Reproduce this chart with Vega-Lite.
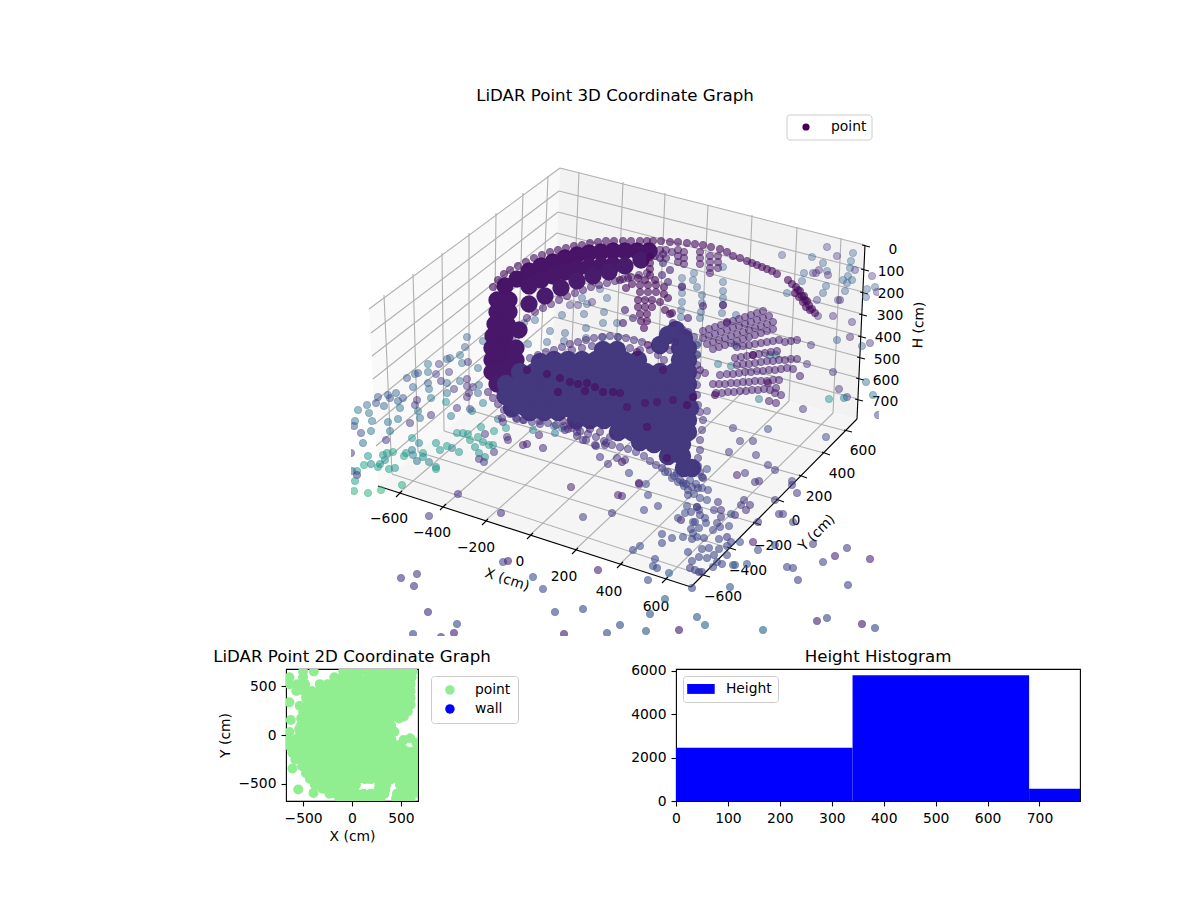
{
"$schema":"https://vega.github.io/schema/vega-lite/v6.json",
"autosize":"none",
"padding":{"left":286,"top":108,"right":914,"bottom":792},
"background":"white",
"config":{"font":"DejaVu Sans","title":{"fontSize":16.67,"fontWeight":"normal","color":"black","offset":3},
"axis":{"grid":false,"domain":false,"tickColor":"black","tickSize":5,"tickWidth":1.1,"labelColor":"black","labelFontSize":13.89,"labelFlush":false,"labelOverlap":false,"labelPadding":5,"titleColor":"black","titleFontSize":13.89,"titleFontWeight":"normal","titlePadding":5}},
"datasets":{
"ticklabels":[{"x":389,"y":519,"t":"−600"},{"x":432,"y":533,"t":"−400"},{"x":476,"y":548,"t":"−200"},{"x":520,"y":562,"t":"0"},{"x":564,"y":577,"t":"200"},{"x":609,"y":592,"t":"400"},{"x":656,"y":607,"t":"600"},
{"x":723,"y":597,"t":"−600"},{"x":748,"y":571,"t":"−400"},{"x":773,"y":546,"t":"−200"},{"x":796,"y":521,"t":"0"},{"x":819,"y":497,"t":"200"},{"x":842,"y":474,"t":"400"},{"x":863,"y":451,"t":"600"},
{"x":893,"y":250,"t":"0"},{"x":891,"y":272,"t":"100"},{"x":891,"y":294,"t":"200"},{"x":890,"y":316,"t":"300"},{"x":888,"y":338,"t":"400"},{"x":887,"y":360,"t":"500"},{"x":886,"y":381,"t":"600"},{"x":885,"y":402,"t":"700"}],
"grid":[{"x":399,"y":493,"x2":572,"y2":345},{"x":572,"y":345,"x2":579,"y2":172},{"x":443,"y":507,"x2":616,"y2":356},{"x":616,"y":356,"x2":623,"y2":182},{"x":485,"y":521,"x2":658,"y2":367},{"x":658,"y":367,"x2":665,"y2":193},{"x":530,"y":535,"x2":700,"y2":378},{"x":700,"y":378,"x2":708,"y2":205},{"x":575,"y":550,"x2":745,"y2":390},{"x":745,"y":390,"x2":752,"y2":215},{"x":620,"y":564,"x2":789,"y2":401},{"x":789,"y":401,"x2":797,"y2":227},{"x":665,"y":579,"x2":833,"y2":413},{"x":833,"y":413,"x2":841,"y2":238},
{"x":702,"y":575,"x2":392,"y2":474},{"x":392,"y":474,"x2":384,"y2":295},{"x":729,"y":548,"x2":418,"y2":452},{"x":418,"y":452,"x2":413,"y2":274},{"x":755,"y":523,"x2":444,"y2":431},{"x":444,"y":431,"x2":442,"y2":253},{"x":778,"y":500,"x2":469,"y2":410},{"x":469,"y":410,"x2":469,"y2":233},{"x":801,"y":476,"x2":494,"y2":390},{"x":494,"y":390,"x2":496,"y2":213},{"x":824,"y":453,"x2":518,"y2":369},{"x":518,"y":369,"x2":523,"y2":193},{"x":846,"y":431,"x2":541,"y2":350},{"x":541,"y":350,"x2":548,"y2":176},
{"x":369,"y":309,"x2":560,"y2":168},{"x":560,"y":168,"x2":865,"y2":245},{"x":371,"y":333,"x2":559,"y2":191},{"x":559,"y":191,"x2":864,"y2":269},{"x":372,"y":356,"x2":558,"y2":212},{"x":558,"y":212,"x2":863,"y2":292},{"x":373,"y":379,"x2":557,"y2":233},{"x":557,"y":233,"x2":862,"y2":314},{"x":374,"y":402,"x2":556,"y2":254},{"x":556,"y":254,"x2":861,"y2":336},{"x":375,"y":424,"x2":555,"y2":275},{"x":555,"y":275,"x2":860,"y2":357},{"x":376,"y":446,"x2":555,"y2":296},{"x":555,"y":296,"x2":859,"y2":378},{"x":377,"y":467,"x2":554,"y2":317},{"x":554,"y":317,"x2":858,"y2":399}],
"axes":[{"x":378,"y":486,"x2":691,"y2":587},{"x":691,"y":587,"x2":857,"y2":419},{"x":857,"y":419,"x2":865,"y2":245},
{"x":396,"y":497,"x2":402,"y2":491},{"x":440,"y":510,"x2":446,"y2":504},{"x":482,"y":525,"x2":488,"y2":519},{"x":527,"y":539,"x2":533,"y2":533},{"x":572,"y":554,"x2":578,"y2":548},{"x":617,"y":568,"x2":623,"y2":562},{"x":662,"y":583,"x2":668,"y2":577},
{"x":700,"y":574,"x2":710,"y2":577},{"x":727,"y":547,"x2":736,"y2":550},{"x":753,"y":522,"x2":761,"y2":525},{"x":776,"y":499,"x2":784,"y2":502},{"x":799,"y":475,"x2":807,"y2":478},{"x":822,"y":452,"x2":830,"y2":455},{"x":844,"y":430,"x2":852,"y2":432},
{"x":862,"y":245,"x2":870,"y2":247},{"x":861,"y":269,"x2":869,"y2":271},{"x":860,"y":292,"x2":868,"y2":294},{"x":859,"y":314,"x2":867,"y2":316},{"x":858,"y":336,"x2":866,"y2":338},{"x":857,"y":357,"x2":865,"y2":359},{"x":856,"y":378,"x2":864,"y2":380},{"x":855,"y":399,"x2":863,"y2":401}],
"scatter":[{"x":358,"y":410,"h":300},{"x":355,"y":421,"h":280},{"x":354,"y":426,"h":200},{"x":361,"y":433,"h":180},{"x":363,"y":443,"h":270},{"x":371,"y":431,"h":300},{"x":372,"y":421,"h":300},{"x":369,"y":413,"h":290},{"x":367,"y":405,"h":280},{"x":376,"y":403,"h":190},{"x":378,"y":397,"h":200},{"x":384,"y":406,"h":260},{"x":388,"y":395,"h":250},{"x":390,"y":398,"h":170},{"x":396,"y":393,"h":250},{"x":398,"y":401,"h":230},{"x":403,"y":398,"h":210},{"x":400,"y":408,"h":290},{"x":388,"y":422,"h":290},{"x":398,"y":419,"h":300},{"x":390,"y":431,"h":310},{"x":386,"y":440,"h":130},{"x":410,"y":423,"h":120},{"x":413,"y":387,"h":260},{"x":407,"y":378,"h":200},{"x":415,"y":374,"h":270},{"x":418,"y":373,"h":200},{"x":428,"y":383,"h":200},{"x":429,"y":389,"h":280},{"x":431,"y":398,"h":300},{"x":417,"y":400,"h":110},{"x":415,"y":405,"h":130},{"x":418,"y":411,"h":300},{"x":420,"y":418,"h":290},{"x":431,"y":415,"h":110},{"x":428,"y":364,"h":300},{"x":428,"y":372,"h":280},{"x":436,"y":374,"h":150},{"x":439,"y":364,"h":130},{"x":447,"y":359,"h":240},{"x":450,"y":358,"h":230},{"x":449,"y":372,"h":130},{"x":441,"y":381,"h":110},{"x":447,"y":383,"h":250},{"x":447,"y":393,"h":300},{"x":446,"y":402,"h":380},{"x":454,"y":389,"h":110},{"x":460,"y":381,"h":280},{"x":462,"y":363,"h":280},{"x":460,"y":355,"h":280},{"x":468,"y":362,"h":100},{"x":478,"y":368,"h":260},{"x":467,"y":379,"h":90},{"x":467,"y":386,"h":120},{"x":473,"y":387,"h":100},{"x":469,"y":393,"h":90},{"x":467,"y":397,"h":90},{"x":479,"y":385,"h":260},{"x":478,"y":393,"h":250},{"x":483,"y":403,"h":330},{"x":457,"y":408,"h":110},{"x":470,"y":409,"h":160},{"x":472,"y":411,"h":320},{"x":451,"y":416,"h":320},{"x":498,"y":419,"h":300},{"x":502,"y":418,"h":90},{"x":503,"y":422,"h":90},{"x":457,"y":433,"h":420},{"x":463,"y":433,"h":420},{"x":468,"y":434,"h":420},{"x":470,"y":440,"h":420},{"x":478,"y":437,"h":420},{"x":485,"y":434,"h":120},{"x":481,"y":427,"h":420},{"x":494,"y":431,"h":430},{"x":506,"y":428,"h":430},{"x":507,"y":437,"h":100},{"x":508,"y":440,"h":90},{"x":483,"y":442,"h":400},{"x":489,"y":445,"h":430},{"x":493,"y":445,"h":400},{"x":494,"y":452,"h":120},{"x":475,"y":447,"h":400},{"x":479,"y":453,"h":400},{"x":485,"y":457,"h":380},{"x":479,"y":459,"h":120},{"x":484,"y":462,"h":120},{"x":459,"y":452,"h":400},{"x":452,"y":448,"h":340},{"x":447,"y":446,"h":430},{"x":440,"y":450,"h":410},{"x":436,"y":443,"h":400},{"x":419,"y":443,"h":340},{"x":412,"y":438,"h":420},{"x":412,"y":450,"h":300},{"x":406,"y":453,"h":400},{"x":413,"y":455,"h":350},{"x":404,"y":456,"h":450},{"x":423,"y":453,"h":450},{"x":423,"y":457,"h":380},{"x":417,"y":461,"h":300},{"x":429,"y":462,"h":340},{"x":436,"y":467,"h":380},{"x":436,"y":469,"h":460},{"x":395,"y":468,"h":400},{"x":389,"y":469,"h":450},{"x":393,"y":452,"h":460},{"x":387,"y":453,"h":400},{"x":383,"y":455,"h":440},{"x":385,"y":460,"h":400},{"x":380,"y":464,"h":400},{"x":378,"y":467,"h":450},{"x":371,"y":464,"h":340},{"x":368,"y":456,"h":400},{"x":364,"y":465,"h":460},{"x":357,"y":471,"h":400},{"x":352,"y":471,"h":260},{"x":357,"y":475,"h":110},{"x":355,"y":481,"h":450},{"x":354,"y":491,"h":500},{"x":368,"y":493,"h":500},{"x":381,"y":490,"h":510},{"x":402,"y":485,"h":480},{"x":351,"y":453,"h":110},
{"x":458,"y":494,"h":100},{"x":429,"y":516,"h":130},{"x":501,"y":513,"h":100},{"x":571,"y":487,"h":60},{"x":583,"y":517,"h":150},{"x":612,"y":513,"h":130},{"x":618,"y":495,"h":70},{"x":503,"y":562,"h":170},{"x":508,"y":561,"h":70},{"x":401,"y":578,"h":120},{"x":417,"y":574,"h":140},{"x":414,"y":586,"h":120},{"x":533,"y":577,"h":190},{"x":543,"y":589,"h":190},{"x":598,"y":570,"h":70},{"x":428,"y":612,"h":110},{"x":457,"y":624,"h":190},{"x":413,"y":634,"h":190},{"x":441,"y":637,"h":130},{"x":454,"y":633,"h":90},{"x":555,"y":612,"h":190},{"x":583,"y":609,"h":190},{"x":564,"y":634,"h":70},{"x":607,"y":633,"h":190},{"x":620,"y":625,"h":190},
{"x":646,"y":631,"h":230},{"x":679,"y":630,"h":70},{"x":650,"y":614,"h":210},{"x":665,"y":599,"h":240},{"x":697,"y":617,"h":230},{"x":705,"y":625,"h":280},{"x":763,"y":630,"h":280},{"x":730,"y":587,"h":220},{"x":692,"y":588,"h":190},{"x":648,"y":580,"h":190},{"x":669,"y":573,"h":230},{"x":657,"y":568,"h":170},{"x":653,"y":566,"h":190},{"x":655,"y":559,"h":170},{"x":633,"y":550,"h":170},{"x":640,"y":546,"h":190},{"x":747,"y":564,"h":220},{"x":735,"y":565,"h":210},{"x":733,"y":565,"h":220},{"x":787,"y":567,"h":170},{"x":793,"y":568,"h":170},{"x":798,"y":580,"h":150},{"x":848,"y":585,"h":160},{"x":823,"y":562,"h":170},{"x":835,"y":556,"h":70},{"x":870,"y":559,"h":70},{"x":847,"y":548,"h":140},{"x":813,"y":544,"h":150},{"x":817,"y":621,"h":90},{"x":827,"y":618,"h":180},{"x":862,"y":624,"h":70},{"x":875,"y":628,"h":180},{"x":753,"y":542,"h":70},{"x":758,"y":550,"h":190},{"x":740,"y":542,"h":190},{"x":758,"y":522,"h":120},{"x":775,"y":500,"h":120},{"x":797,"y":493,"h":110},{"x":779,"y":514,"h":130},{"x":783,"y":514,"h":150},{"x":793,"y":522,"h":170},{"x":775,"y":545,"h":170},{"x":792,"y":485,"h":120},{"x":746,"y":510,"h":110},{"x":750,"y":505,"h":100},{"x":741,"y":505,"h":120},{"x":744,"y":500,"h":120},{"x":735,"y":515,"h":100},{"x":731,"y":514,"h":190},{"x":718,"y":502,"h":110},{"x":714,"y":510,"h":150},{"x":721,"y":510,"h":110},{"x":721,"y":517,"h":120},{"x":707,"y":500,"h":170},{"x":708,"y":490,"h":150},{"x":699,"y":510,"h":150},{"x":697,"y":507,"h":130},{"x":691,"y":512,"h":150},{"x":687,"y":506,"h":170},{"x":685,"y":513,"h":190},{"x":681,"y":520,"h":60},{"x":678,"y":518,"h":180},{"x":658,"y":506,"h":150},{"x":644,"y":510,"h":170},{"x":648,"y":495,"h":170},{"x":622,"y":496,"h":60},{"x":639,"y":484,"h":70},{"x":646,"y":484,"h":170},{"x":695,"y":522,"h":150},{"x":693,"y":522,"h":170},{"x":705,"y":518,"h":170},{"x":706,"y":523,"h":170},{"x":699,"y":528,"h":170},{"x":691,"y":529,"h":160},{"x":693,"y":533,"h":170},{"x":697,"y":537,"h":170},{"x":662,"y":534,"h":170},{"x":672,"y":538,"h":170},{"x":683,"y":537,"h":170},{"x":662,"y":543,"h":170},{"x":692,"y":539,"h":160},{"x":704,"y":538,"h":170},{"x":713,"y":530,"h":170},{"x":717,"y":523,"h":150},{"x":720,"y":527,"h":150},{"x":729,"y":526,"h":170},{"x":727,"y":537,"h":120},{"x":719,"y":539,"h":170},{"x":731,"y":542,"h":170},{"x":727,"y":546,"h":170},{"x":688,"y":552,"h":170},{"x":702,"y":549,"h":170},{"x":709,"y":548,"h":170},{"x":719,"y":549,"h":170},{"x":699,"y":557,"h":170},{"x":707,"y":558,"h":170},{"x":714,"y":555,"h":170},{"x":727,"y":555,"h":170},{"x":692,"y":561,"h":170},{"x":713,"y":567,"h":170},{"x":722,"y":564,"h":170},{"x":690,"y":568,"h":140},{"x":695,"y":570,"h":170},{"x":699,"y":572,"h":150},{"x":702,"y":572,"h":150},{"x":717,"y":562,"h":170},
{"x":733,"y":428,"h":120},{"x":768,"y":429,"h":170},{"x":826,"y":437,"h":170},{"x":740,"y":441,"h":120},{"x":753,"y":441,"h":120},{"x":729,"y":452,"h":120},{"x":756,"y":455,"h":120},{"x":707,"y":411,"h":110},{"x":803,"y":409,"h":110},{"x":768,"y":465,"h":120},{"x":775,"y":470,"h":120},{"x":745,"y":473,"h":120},{"x":737,"y":475,"h":60},{"x":755,"y":482,"h":120},{"x":759,"y":481,"h":100},{"x":792,"y":481,"h":150},{"x":707,"y":469,"h":170},{"x":829,"y":399,"h":380},{"x":847,"y":397,"h":150},{"x":844,"y":398,"h":320},{"x":839,"y":389,"h":110},{"x":873,"y":395,"h":300},{"x":878,"y":415,"h":160},{"x":866,"y":382,"h":290},{"x":833,"y":372,"h":110},{"x":807,"y":364,"h":100},
{"x":827,"y":247,"h":110},{"x":782,"y":255,"h":170},{"x":812,"y":257,"h":230},{"x":837,"y":256,"h":90},{"x":853,"y":253,"h":240},{"x":851,"y":261,"h":240},{"x":823,"y":263,"h":220},{"x":850,"y":268,"h":240},{"x":855,"y":270,"h":130},{"x":872,"y":276,"h":110},{"x":819,"y":270,"h":90},{"x":813,"y":273,"h":110},{"x":816,"y":273,"h":90},{"x":804,"y":273,"h":230},{"x":827,"y":271,"h":230},{"x":828,"y":275,"h":70},{"x":848,"y":276,"h":240},{"x":843,"y":280,"h":240},{"x":852,"y":280,"h":240},{"x":847,"y":283,"h":240},{"x":802,"y":281,"h":240},{"x":826,"y":286,"h":230},{"x":867,"y":289,"h":230},{"x":875,"y":287,"h":230},{"x":877,"y":292,"h":110},{"x":866,"y":297,"h":230},{"x":845,"y":291,"h":240},{"x":823,"y":293,"h":230},{"x":787,"y":293,"h":230},{"x":817,"y":300,"h":130},{"x":838,"y":300,"h":200},{"x":840,"y":300,"h":60},{"x":833,"y":316,"h":90},{"x":818,"y":316,"h":100},{"x":852,"y":322,"h":110},{"x":850,"y":337,"h":70},{"x":837,"y":340,"h":230},{"x":870,"y":343,"h":110},{"x":862,"y":346,"h":230},{"x":811,"y":345,"h":100},
{"x":723,"y":267,"h":230},{"x":723,"y":282,"h":230},{"x":723,"y":291,"h":230},{"x":723,"y":298,"h":230},{"x":723,"y":305,"h":230},{"x":722,"y":313,"h":230},{"x":682,"y":278,"h":230},{"x":682,"y":286,"h":230},{"x":682,"y":293,"h":230},{"x":682,"y":302,"h":230},{"x":681,"y":310,"h":230},{"x":681,"y":317,"h":230},{"x":694,"y":273,"h":230},{"x":693,"y":280,"h":230},{"x":697,"y":287,"h":230},{"x":702,"y":295,"h":230},{"x":702,"y":303,"h":230},{"x":701,"y":312,"h":230},{"x":700,"y":318,"h":230},{"x":698,"y":343,"h":280},{"x":736,"y":315,"h":230},
{"x":467,"y":337,"h":230},{"x":465,"y":347,"h":230},{"x":513,"y":336,"h":230},{"x":512,"y":346,"h":230},{"x":528,"y":344,"h":230},{"x":550,"y":331,"h":230},{"x":547,"y":342,"h":230},{"x":565,"y":333,"h":230},{"x":564,"y":341,"h":230},{"x":586,"y":328,"h":230},{"x":584,"y":314,"h":230},{"x":562,"y":315,"h":230},{"x":535,"y":320,"h":230},{"x":524,"y":323,"h":230},{"x":603,"y":323,"h":230},{"x":604,"y":312,"h":230},{"x":607,"y":298,"h":230},{"x":600,"y":289,"h":230},{"x":570,"y":305,"h":120},{"x":578,"y":305,"h":120},{"x":582,"y":298,"h":230},{"x":587,"y":304,"h":230},{"x":592,"y":302,"h":90},{"x":617,"y":323,"h":230},{"x":618,"y":337,"h":230},{"x":603,"y":337,"h":230},{"x":586,"y":338,"h":230},{"x":483,"y":341,"h":230},
{"x":697,"y":354,"h":300},{"x":718,"y":364,"h":300},{"x":731,"y":366,"h":300},{"x":735,"y":345,"h":300},{"x":770,"y":355,"h":300},{"x":776,"y":355,"h":300},{"x":759,"y":399,"h":310},{"x":533,"y":430,"h":330},{"x":554,"y":426,"h":300},{"x":562,"y":428,"h":300},{"x":555,"y":433,"h":300}],
"core":[{"x":540,"y":362},{"x":554,"y":360},{"x":568,"y":360},{"x":582,"y":360},{"x":596,"y":360},{"x":610,"y":360},{"x":624,"y":360},{"x":638,"y":360},{"x":603,"y":350},{"x":617,"y":350},{"x":680,"y":348},{"x":688,"y":348},{"x":684,"y":338},{"x":680,"y":360},{"x":688,"y":360},
{"x":520,"y":372},{"x":534,"y":372},{"x":548,"y":372},{"x":562,"y":372},{"x":576,"y":372},{"x":590,"y":372},{"x":604,"y":372},{"x":618,"y":372},{"x":632,"y":372},{"x":646,"y":372},{"x":660,"y":372},{"x":674,"y":372},{"x":688,"y":372},
{"x":506,"y":384},{"x":520,"y":384},{"x":534,"y":384},{"x":548,"y":384},{"x":562,"y":384},{"x":576,"y":384},{"x":590,"y":384},{"x":604,"y":384},{"x":618,"y":384},{"x":632,"y":384},{"x":646,"y":384},{"x":660,"y":384},{"x":674,"y":384},{"x":688,"y":384},
{"x":506,"y":396},{"x":520,"y":396},{"x":534,"y":396},{"x":548,"y":396},{"x":562,"y":396},{"x":576,"y":396},{"x":590,"y":396},{"x":604,"y":396},{"x":618,"y":396},{"x":632,"y":396},{"x":646,"y":396},{"x":660,"y":396},{"x":674,"y":396},{"x":688,"y":396},
{"x":512,"y":408},{"x":526,"y":408},{"x":540,"y":408},{"x":554,"y":408},{"x":568,"y":408},{"x":582,"y":408},{"x":596,"y":408},{"x":610,"y":408},{"x":624,"y":408},{"x":638,"y":408},{"x":652,"y":408},{"x":666,"y":408},{"x":680,"y":408},{"x":690,"y":408},
{"x":576,"y":420},{"x":590,"y":420},{"x":604,"y":420},{"x":618,"y":420},{"x":632,"y":420},{"x":646,"y":420},{"x":660,"y":420},{"x":674,"y":420},{"x":688,"y":420},{"x":530,"y":412},{"x":544,"y":412},{"x":558,"y":412},
{"x":618,"y":432},{"x":632,"y":432},{"x":646,"y":432},{"x":660,"y":432},{"x":674,"y":432},{"x":688,"y":432},{"x":640,"y":442},{"x":654,"y":444},{"x":668,"y":444},{"x":682,"y":444},{"x":668,"y":456},{"x":682,"y":456},{"x":684,"y":468},{"x":692,"y":468},{"x":660,"y":345},{"x":668,"y":335},{"x":676,"y":330}],
"band":[{"x":497,"y":300,"h":45},{"x":509,"y":300,"h":45},{"x":497,"y":312,"h":45},{"x":509,"y":312,"h":45},{"x":495,"y":324,"h":45},{"x":507,"y":324,"h":45},{"x":519,"y":330,"h":50},{"x":493,"y":336,"h":45},{"x":505,"y":336,"h":45},{"x":492,"y":348,"h":45},{"x":504,"y":348,"h":45},{"x":516,"y":348,"h":50},{"x":492,"y":360,"h":45},{"x":504,"y":360,"h":45},{"x":516,"y":360,"h":50},{"x":492,"y":372,"h":50},{"x":504,"y":372,"h":50},{"x":516,"y":372,"h":50},{"x":497,"y":384,"h":55},{"x":509,"y":384,"h":55},{"x":521,"y":384,"h":55},{"x":505,"y":396,"h":55},{"x":517,"y":396,"h":55},
{"x":505,"y":286,"h":40},{"x":517,"y":279,"h":40},{"x":529,"y":271,"h":40},{"x":541,"y":266,"h":40},{"x":553,"y":262,"h":40},{"x":565,"y":258,"h":40},{"x":577,"y":255,"h":40},{"x":589,"y":253,"h":40},{"x":601,"y":252,"h":40},{"x":613,"y":251,"h":40},{"x":625,"y":251,"h":40},{"x":637,"y":251,"h":40},{"x":649,"y":251,"h":40},
{"x":529,"y":286,"h":45},{"x":541,"y":280,"h":45},{"x":553,"y":276,"h":45},{"x":565,"y":272,"h":45},{"x":577,"y":269,"h":45},{"x":589,"y":267,"h":45},{"x":601,"y":266,"h":45},{"x":613,"y":265,"h":45},
{"x":529,"y":304,"h":55},{"x":545,"y":296,"h":55},{"x":561,"y":288,"h":55},{"x":577,"y":281,"h":55},{"x":593,"y":276,"h":55},{"x":609,"y":272,"h":55},{"x":625,"y":266,"h":55},{"x":641,"y":260,"h":55}],
"edge":[{"x":488,"y":392,"h":80},{"x":493,"y":398,"h":90},{"x":498,"y":404,"h":95},{"x":504,"y":410,"h":100},{"x":510,"y":414,"h":105},{"x":516,"y":418,"h":110},{"x":524,"y":420,"h":110},{"x":532,"y":422,"h":110},{"x":540,"y":421,"h":110},{"x":548,"y":423,"h":110},{"x":556,"y":425,"h":110},{"x":564,"y":426,"h":110},{"x":572,"y":428,"h":110},{"x":580,"y":431,"h":115},{"x":588,"y":434,"h":115},{"x":596,"y":437,"h":115},{"x":604,"y":441,"h":115},{"x":612,"y":445,"h":115},{"x":620,"y":447,"h":115},{"x":628,"y":449,"h":115},{"x":636,"y":452,"h":120},{"x":644,"y":456,"h":120},{"x":650,"y":461,"h":120},{"x":656,"y":465,"h":120},{"x":662,"y":468,"h":125},{"x":668,"y":472,"h":125},{"x":674,"y":476,"h":125},{"x":680,"y":480,"h":125},{"x":686,"y":484,"h":125},{"x":692,"y":487,"h":130},{"x":698,"y":488,"h":130},
{"x":700,"y":412,"h":110},{"x":703,"y":420,"h":110},{"x":702,"y":430,"h":110},{"x":700,"y":440,"h":110},{"x":700,"y":450,"h":120},{"x":698,"y":458,"h":120},{"x":698,"y":466,"h":120},{"x":700,"y":472,"h":120},{"x":703,"y":478,"h":120},{"x":698,"y":405,"h":110},{"x":697,"y":395,"h":110},{"x":697,"y":385,"h":110},{"x":697,"y":375,"h":110},{"x":697,"y":365,"h":110},{"x":697,"y":355,"h":110},{"x":697,"y":345,"h":110},{"x":694,"y":337,"h":110},{"x":688,"y":332,"h":110},{"x":683,"y":330,"h":110},
{"x":530,"y":358,"h":100},{"x":538,"y":355,"h":100},{"x":546,"y":352,"h":100},{"x":554,"y":350,"h":100},{"x":562,"y":347,"h":100},{"x":570,"y":344,"h":100},{"x":578,"y":342,"h":100},{"x":586,"y":340,"h":100},{"x":594,"y":338,"h":100},{"x":602,"y":337,"h":100},{"x":610,"y":336,"h":100},{"x":618,"y":337,"h":100},{"x":626,"y":338,"h":100},{"x":634,"y":340,"h":100},{"x":642,"y":342,"h":100},{"x":650,"y":350,"h":100},{"x":658,"y":355,"h":100},{"x":664,"y":360,"h":100},{"x":670,"y":350,"h":100},{"x":675,"y":342,"h":100},{"x":572,"y":350,"h":100},{"x":582,"y":348,"h":100},{"x":592,"y":346,"h":100},{"x":630,"y":348,"h":100},{"x":640,"y":350,"h":100},
{"x":563,"y":421,"h":90},{"x":570,"y":425,"h":90},{"x":578,"y":427,"h":90},{"x":590,"y":429,"h":90},{"x":600,"y":432,"h":90},{"x":610,"y":437,"h":90},{"x":565,"y":430,"h":90},{"x":577,"y":436,"h":100},{"x":586,"y":440,"h":100},{"x":595,"y":445,"h":100},{"x":605,"y":445,"h":100},{"x":600,"y":457,"h":110},{"x":608,"y":464,"h":110},{"x":617,"y":458,"h":110},{"x":625,"y":460,"h":110},{"x":622,"y":462,"h":50},{"x":629,"y":473,"h":150},{"x":639,"y":483,"h":60},{"x":517,"y":419,"h":110},{"x":523,"y":420,"h":110},{"x":540,"y":424,"h":100},{"x":568,"y":429,"h":100},{"x":577,"y":432,"h":100},{"x":583,"y":440,"h":110},{"x":596,"y":446,"h":110},{"x":606,"y":443,"h":110},{"x":523,"y":445,"h":80},{"x":527,"y":444,"h":80},{"x":543,"y":448,"h":90},{"x":539,"y":435,"h":90},
{"x":665,"y":472,"h":170},{"x":672,"y":478,"h":170},{"x":678,"y":482,"h":170},{"x":684,"y":486,"h":170},{"x":688,"y":490,"h":170},{"x":694,"y":494,"h":170},{"x":700,"y":498,"h":170},{"x":690,"y":480,"h":170},{"x":696,"y":484,"h":170},{"x":702,"y":488,"h":170},{"x":677,"y":473,"h":150},{"x":683,"y":483,"h":150},{"x":688,"y":495,"h":150},{"x":697,"y":507,"h":150},{"x":700,"y":515,"h":150},{"x":702,"y":477,"h":150},
{"x":527,"y":318,"h":60},{"x":535,"y":312,"h":60},{"x":543,"y":308,"h":60},{"x":551,"y":304,"h":60},{"x":559,"y":300,"h":60},{"x":567,"y":296,"h":60},{"x":575,"y":293,"h":60},{"x":583,"y":290,"h":60},{"x":591,"y":287,"h":60},{"x":599,"y":285,"h":60},{"x":607,"y":283,"h":60},{"x":615,"y":281,"h":60},{"x":623,"y":279,"h":60},{"x":631,"y":277,"h":60},{"x":639,"y":275,"h":60},{"x":647,"y":273,"h":60},{"x":655,"y":256,"h":60},{"x":663,"y":254,"h":60},{"x":672,"y":252,"h":60},
{"x":678,"y":250,"h":40},{"x":678,"y":256,"h":40},{"x":678,"y":262,"h":50},{"x":684,"y":252,"h":40},{"x":684,"y":258,"h":40},{"x":684,"y":264,"h":50},{"x":700,"y":252,"h":40},{"x":700,"y":258,"h":50},{"x":700,"y":264,"h":50},{"x":710,"y":256,"h":50},{"x":710,"y":262,"h":50},{"x":710,"y":268,"h":60},{"x":710,"y":273,"h":60},{"x":718,"y":256,"h":50},{"x":718,"y":262,"h":50},{"x":718,"y":268,"h":60},{"x":660,"y":250,"h":40},{"x":660,"y":258,"h":50},{"x":666,"y":250,"h":40},{"x":666,"y":258,"h":50},
{"x":703,"y":331,"h":70},{"x":709,"y":329,"h":70},{"x":715,"y":327,"h":70},{"x":721,"y":325,"h":70},{"x":727,"y":323,"h":70},{"x":733,"y":321,"h":70},{"x":739,"y":319,"h":70},{"x":745,"y":317,"h":70},{"x":751,"y":315,"h":70},{"x":757,"y":313,"h":70},{"x":763,"y":311,"h":70},{"x":703,"y":338,"h":70},{"x":709,"y":336,"h":70},{"x":715,"y":334,"h":70},{"x":721,"y":332,"h":70},{"x":727,"y":330,"h":70},{"x":733,"y":328,"h":70},{"x":739,"y":326,"h":70},{"x":745,"y":324,"h":70},{"x":751,"y":322,"h":70},{"x":757,"y":320,"h":70},{"x":763,"y":318,"h":70},{"x":769,"y":316,"h":70},{"x":707,"y":344,"h":70},{"x":713,"y":342,"h":70},{"x":719,"y":340,"h":70},{"x":725,"y":338,"h":70},{"x":731,"y":336,"h":70},{"x":737,"y":334,"h":70},{"x":743,"y":332,"h":70},{"x":749,"y":330,"h":70},{"x":755,"y":328,"h":70},{"x":761,"y":326,"h":70},{"x":767,"y":324,"h":70},{"x":773,"y":322,"h":70},{"x":713,"y":349,"h":70},{"x":719,"y":347,"h":70},{"x":725,"y":345,"h":70},{"x":731,"y":343,"h":70},{"x":737,"y":341,"h":70},{"x":743,"y":339,"h":70},{"x":749,"y":337,"h":70},{"x":755,"y":335,"h":70},{"x":761,"y":333,"h":70},{"x":767,"y":331,"h":70},{"x":773,"y":329,"h":70},
{"x":737,"y":347,"h":70},{"x":743,"y":346,"h":70},{"x":749,"y":345,"h":70},{"x":755,"y":344,"h":70},{"x":761,"y":343,"h":70},{"x":767,"y":342,"h":70},{"x":773,"y":341,"h":70},{"x":779,"y":340,"h":70},{"x":785,"y":342,"h":70},{"x":791,"y":341,"h":70},{"x":797,"y":340,"h":70},{"x":735,"y":358,"h":70},{"x":741,"y":357,"h":70},{"x":747,"y":356,"h":70},{"x":753,"y":355,"h":70},{"x":759,"y":354,"h":70},{"x":765,"y":353,"h":70},{"x":771,"y":352,"h":70},{"x":777,"y":351,"h":70},{"x":737,"y":365,"h":70},{"x":743,"y":364,"h":70},{"x":749,"y":364,"h":70},{"x":755,"y":363,"h":70},{"x":761,"y":362,"h":70},{"x":767,"y":361,"h":70},{"x":773,"y":361,"h":70},{"x":779,"y":360,"h":70},{"x":785,"y":360,"h":70},{"x":791,"y":359,"h":70},{"x":797,"y":359,"h":70},
{"x":720,"y":375,"h":70},{"x":727,"y":374,"h":70},{"x":733,"y":374,"h":70},{"x":739,"y":373,"h":70},{"x":745,"y":372,"h":70},{"x":751,"y":372,"h":70},{"x":757,"y":371,"h":70},{"x":763,"y":371,"h":70},{"x":769,"y":370,"h":70},{"x":775,"y":370,"h":70},{"x":781,"y":369,"h":70},{"x":787,"y":368,"h":70},{"x":793,"y":369,"h":70},{"x":800,"y":376,"h":70},{"x":713,"y":384,"h":70},{"x":719,"y":384,"h":70},{"x":725,"y":384,"h":70},{"x":731,"y":383,"h":70},{"x":737,"y":383,"h":70},{"x":743,"y":382,"h":70},{"x":749,"y":382,"h":70},{"x":755,"y":381,"h":70},{"x":761,"y":381,"h":70},{"x":767,"y":381,"h":70},{"x":773,"y":380,"h":70},{"x":779,"y":380,"h":70},{"x":716,"y":393,"h":70},{"x":722,"y":393,"h":70},{"x":728,"y":392,"h":70},{"x":734,"y":392,"h":70},{"x":740,"y":391,"h":70},{"x":746,"y":391,"h":70},{"x":752,"y":390,"h":70},{"x":758,"y":390,"h":70},{"x":764,"y":389,"h":70},{"x":770,"y":390,"h":70},{"x":776,"y":388,"h":70},{"x":769,"y":401,"h":70},{"x":776,"y":403,"h":70},{"x":775,"y":393,"h":70},{"x":781,"y":395,"h":70},{"x":700,"y":370,"h":70},{"x":705,"y":373,"h":70}],
"dark":[{"x":493,"y":287,"h":25},{"x":498,"y":280,"h":25},{"x":504,"y":274,"h":25},{"x":510,"y":270,"h":25},{"x":518,"y":266,"h":25},{"x":526,"y":262,"h":25},{"x":534,"y":258,"h":25},{"x":542,"y":255,"h":25},{"x":550,"y":252,"h":25},{"x":558,"y":250,"h":25},{"x":566,"y":248,"h":25},{"x":574,"y":246,"h":25},{"x":582,"y":245,"h":25},{"x":590,"y":243,"h":25},{"x":598,"y":242,"h":25},{"x":606,"y":241,"h":25},{"x":614,"y":241,"h":25},{"x":623,"y":241,"h":25},{"x":631,"y":241,"h":25},{"x":640,"y":241,"h":25},{"x":647,"y":241,"h":25},{"x":653,"y":241,"h":25},{"x":661,"y":241,"h":25},{"x":670,"y":242,"h":25},{"x":678,"y":242,"h":25},{"x":687,"y":243,"h":25},{"x":695,"y":244,"h":25},{"x":703,"y":245,"h":25},{"x":711,"y":247,"h":25},{"x":720,"y":249,"h":25},{"x":727,"y":252,"h":25},{"x":733,"y":256,"h":25},{"x":740,"y":258,"h":25},{"x":747,"y":261,"h":25},{"x":752,"y":263,"h":25},{"x":757,"y":265,"h":25},{"x":762,"y":267,"h":25},{"x":767,"y":269,"h":25},{"x":772,"y":271,"h":25},{"x":777,"y":274,"h":25},
{"x":788,"y":280,"h":20},{"x":792,"y":284,"h":20},{"x":796,"y":287,"h":20},{"x":800,"y":291,"h":20},{"x":804,"y":296,"h":20},{"x":807,"y":301,"h":20},{"x":798,"y":290,"h":20},{"x":802,"y":296,"h":20},{"x":805,"y":300,"h":20},{"x":809,"y":305,"h":20},{"x":812,"y":309,"h":20},{"x":815,"y":313,"h":20},{"x":795,"y":293,"h":20},{"x":799,"y":297,"h":20},{"x":803,"y":302,"h":20},{"x":806,"y":307,"h":20},{"x":810,"y":310,"h":20},
{"x":650,"y":257,"h":15},{"x":650,"y":263,"h":15},{"x":650,"y":269,"h":15},{"x":650,"y":275,"h":15},{"x":645,"y":280,"h":15},{"x":655,"y":280,"h":15},{"x":640,"y":285,"h":15},{"x":648,"y":285,"h":15},{"x":656,"y":285,"h":15},{"x":664,"y":287,"h":15},{"x":640,"y":292,"h":15},{"x":648,"y":292,"h":15},{"x":656,"y":292,"h":15},{"x":664,"y":294,"h":15},{"x":668,"y":298,"h":15},{"x":638,"y":300,"h":15},{"x":645,"y":300,"h":15},{"x":652,"y":300,"h":15},{"x":660,"y":302,"h":15},{"x":638,"y":307,"h":15},{"x":645,"y":307,"h":15},{"x":652,"y":307,"h":15},{"x":640,"y":314,"h":15},{"x":647,"y":314,"h":15},{"x":665,"y":310,"h":15},{"x":670,"y":314,"h":15},{"x":641,"y":321,"h":15},{"x":647,"y":321,"h":15},{"x":644,"y":328,"h":15},{"x":638,"y":278,"h":15},{"x":632,"y":284,"h":15},{"x":626,"y":288,"h":15},{"x":620,"y":280,"h":15},{"x":628,"y":278,"h":15},
{"x":682,"y":287,"h":60},{"x":703,"y":306,"h":70},{"x":723,"y":305,"h":50},{"x":688,"y":318,"h":80},{"x":727,"y":322,"h":50},{"x":673,"y":323,"h":90},{"x":670,"y":270,"h":90},{"x":663,"y":263,"h":110},{"x":662,"y":275,"h":90},{"x":668,"y":282,"h":90},{"x":672,"y":313,"h":30},{"x":633,"y":318,"h":100},{"x":623,"y":323,"h":60},{"x":625,"y":310,"h":70},
{"x":527,"y":370,"h":20},{"x":547,"y":374,"h":20},{"x":560,"y":378,"h":20},{"x":570,"y":382,"h":20},{"x":578,"y":384,"h":20},{"x":587,"y":383,"h":20},{"x":585,"y":391,"h":20},{"x":595,"y":387,"h":20},{"x":603,"y":392,"h":20},{"x":613,"y":392,"h":20},{"x":558,"y":392,"h":20},{"x":620,"y":393,"h":30},{"x":647,"y":427,"h":30},{"x":667,"y":458,"h":30},{"x":637,"y":352,"h":30},{"x":648,"y":345,"h":30},{"x":663,"y":370,"h":40},{"x":657,"y":402,"h":40},{"x":687,"y":405,"h":20},{"x":693,"y":397,"h":20},{"x":645,"y":403,"h":40},{"x":627,"y":407,"h":40},{"x":673,"y":400,"h":40},{"x":715,"y":395,"h":20},{"x":753,"y":355,"h":20},{"x":768,"y":383,"h":30}],
"pts2d":[{"x":-500,"y":650},{"x":-390,"y":650},{"x":-90,"y":650},{"x":-10,"y":650},{"x":70,"y":650},{"x":150,"y":650},{"x":230,"y":650},{"x":310,"y":650},{"x":390,"y":650},{"x":470,"y":650},{"x":550,"y":650},{"x":620,"y":650},
{"x":-640,"y":590},{"x":-500,"y":590},{"x":-180,"y":590},{"x":-100,"y":590},{"x":-20,"y":590},{"x":65,"y":590},{"x":275,"y":590},{"x":380,"y":590},{"x":460,"y":590},{"x":540,"y":590},{"x":610,"y":590},
{"x":-640,"y":520},{"x":-560,"y":520},{"x":-480,"y":520},{"x":-330,"y":520},{"x":-250,"y":520},{"x":-170,"y":520},{"x":470,"y":520},{"x":550,"y":520},{"x":600,"y":520},
{"x":-570,"y":450},{"x":-490,"y":450},{"x":-410,"y":450},{"x":-330,"y":450},{"x":-250,"y":450},{"x":-170,"y":450},{"x":470,"y":450},{"x":550,"y":450},{"x":600,"y":450},
{"x":-470,"y":380},{"x":-400,"y":380},{"x":-330,"y":380},{"x":500,"y":380},{"x":570,"y":380},{"x":600,"y":380},{"x":-640,"y":335},{"x":-534,"y":300},{"x":-450,"y":310},{"x":-400,"y":310},{"x":-330,"y":310},{"x":500,"y":310},{"x":570,"y":310},{"x":600,"y":310},
{"x":-500,"y":240},{"x":-460,"y":240},{"x":-390,"y":240},{"x":-320,"y":240},{"x":440,"y":200},{"x":500,"y":240},{"x":570,"y":240},{"x":-626,"y":154},{"x":-520,"y":170},{"x":-400,"y":170},{"x":-330,"y":170},{"x":-460,"y":150},{"x":480,"y":170},{"x":530,"y":190},
{"x":-520,"y":100},{"x":-540,"y":60},{"x":-450,"y":100},{"x":-380,"y":100},{"x":-310,"y":100},{"x":340,"y":100},{"x":400,"y":100},{"x":-640,"y":30},{"x":-530,"y":30},{"x":-460,"y":30},{"x":-390,"y":30},{"x":-320,"y":30},{"x":434,"y":34},{"x":360,"y":30},
{"x":-650,"y":-40},{"x":-570,"y":-40},{"x":-490,"y":-40},{"x":-410,"y":-40},{"x":-330,"y":-40},{"x":400,"y":-40},{"x":527,"y":-51},{"x":595,"y":-34},{"x":657,"y":-79},
{"x":-640,"y":-110},{"x":-570,"y":-110},{"x":-490,"y":-110},{"x":-410,"y":-110},{"x":-330,"y":-110},{"x":440,"y":-110},{"x":480,"y":-130},{"x":-610,"y":-180},{"x":-530,"y":-180},{"x":-450,"y":-180},{"x":-370,"y":-180},{"x":470,"y":-180},
{"x":-580,"y":-250},{"x":-500,"y":-250},{"x":-420,"y":-250},{"x":-340,"y":-250},{"x":500,"y":-250},{"x":-609,"y":-342},{"x":-510,"y":-320},{"x":-430,"y":-320},{"x":-350,"y":-320},{"x":-470,"y":-390},{"x":-400,"y":-390},{"x":-330,"y":-390},
{"x":560,"y":-170},{"x":620,"y":-170},{"x":660,"y":-170},{"x":560,"y":-240},{"x":620,"y":-240},{"x":660,"y":-240},{"x":540,"y":-310},{"x":620,"y":-310},{"x":660,"y":-310},{"x":480,"y":-380},{"x":560,"y":-380},{"x":620,"y":-380},{"x":660,"y":-380},{"x":480,"y":-450},{"x":560,"y":-450},{"x":620,"y":-450},{"x":660,"y":-450},{"x":560,"y":-520},{"x":630,"y":-520},{"x":670,"y":-520},{"x":530,"y":-590},{"x":600,"y":-590},{"x":660,"y":-590},
{"x":-430,"y":-450},{"x":-360,"y":-450},{"x":-290,"y":-450},{"x":-220,"y":-450},{"x":-150,"y":-450},{"x":-80,"y":-450},{"x":-10,"y":-450},{"x":60,"y":-450},{"x":130,"y":-450},{"x":200,"y":-450},{"x":270,"y":-450},{"x":340,"y":-450},{"x":410,"y":-450},
{"x":-380,"y":-510},{"x":-310,"y":-510},{"x":-240,"y":-510},{"x":-170,"y":-510},{"x":-100,"y":-510},{"x":-30,"y":-510},{"x":40,"y":-510},{"x":280,"y":-510},{"x":350,"y":-510},{"x":490,"y":-510},
{"x":-300,"y":-550},{"x":-230,"y":-550},{"x":-160,"y":-550},{"x":-90,"y":-550},{"x":-20,"y":-550},{"x":270,"y":-560},{"x":340,"y":-560},{"x":-550,"y":-557},{"x":-393,"y":-592},
{"x":-230,"y":-600},{"x":-160,"y":-600},{"x":-90,"y":-600},{"x":-20,"y":-600},{"x":50,"y":-600},{"x":120,"y":-600},{"x":190,"y":-600},{"x":260,"y":-600},{"x":330,"y":-600},{"x":460,"y":-600},
{"x":-130,"y":-650},{"x":-60,"y":-650},{"x":10,"y":-650},{"x":80,"y":-650},{"x":150,"y":-650},{"x":220,"y":-650},{"x":290,"y":-650},{"x":450,"y":-650},{"x":530,"y":-650},{"x":600,"y":-650}],
"core2d":[{"x":-250,"y":350},{"x":-250,"y":140},{"x":-250,"y":-70},{"x":-250,"y":-280},{"x":-40,"y":460},{"x":-40,"y":250},{"x":-40,"y":40},{"x":-40,"y":-170},{"x":-40,"y":-340},{"x":170,"y":460},{"x":170,"y":250},{"x":170,"y":40},{"x":170,"y":-170},{"x":170,"y":-340},{"x":380,"y":460},{"x":380,"y":290},{"x":260,"y":100},{"x":300,"y":-130},{"x":380,"y":-340},{"x":440,"y":-210}],
"hist":[{"x0":0,"x1":340,"n":2460,"s":"Height"},{"x0":340,"x1":680,"n":5800,"s":"Height"},{"x0":680,"x1":778,"n":560,"s":"Height"}]
},
"vconcat":[
{"hconcat":[
{"width":65,"height":528,"view":{"stroke":null},"data":{"values":[{"a":0}]},"mark":{"type":"point","opacity":0},"encoding":{}},
{"width":528,"height":528,"view":{"stroke":null},
"title":"LiDAR Point 3D Coordinate Graph",
"encoding":{"x":{"field":"x","type":"quantitative","scale":{"domain":[351,879]},"axis":null},"y":{"field":"y","type":"quantitative","scale":{"domain":[636,108]},"axis":null}},
"layer":[
{"data":{"values":[{"x":369,"y":309,"y2":309},{"x":378,"y":302,"y2":486},{"x":553,"y":173,"y2":340},{"x":560,"y":168,"y2":168}]},"mark":{"type":"area","color":"#f9f9f9"},"encoding":{"y2":{"field":"y2"}}},
{"data":{"values":[{"x":553,"y":340,"y2":340},{"x":560,"y":168,"y2":342},{"x":857,"y":243,"y2":419},{"x":865,"y":245,"y2":245}]},"mark":{"type":"area","color":"#f2f2f2"},"encoding":{"y2":{"field":"y2"}}},
{"data":{"values":[{"x":378,"y":486,"y2":486},{"x":553,"y":340,"y2":542},{"x":691,"y":376,"y2":587},{"x":857,"y":419,"y2":419}]},"mark":{"type":"area","color":"#f5f5f5"},"encoding":{"y2":{"field":"y2"}}},
{"data":{"name":"grid"},"mark":{"type":"rule","color":"#b0b0b0","strokeWidth":1.1},"encoding":{"x2":{"field":"x2"},"y2":{"field":"y2"}}},
{"data":{"name":"axes"},"mark":{"type":"rule","color":"black","strokeWidth":1.1},"encoding":{"x2":{"field":"x2"},"y2":{"field":"y2"}}},
{"data":{"name":"ticklabels"},"mark":{"type":"text","fontSize":13.89,"color":"black"},"encoding":{"text":{"field":"t"}}},
{"data":{"values":[{"x":507,"y":580,"t":"X (cm)"}]},"mark":{"type":"text","fontSize":13.89,"color":"black","angle":18},"encoding":{"text":{"field":"t"}}},
{"data":{"values":[{"x":817,"y":533,"t":"Y (cm)"}]},"mark":{"type":"text","fontSize":13.89,"color":"black","angle":315},"encoding":{"text":{"field":"t"}}},
{"data":{"values":[{"x":919,"y":325,"t":"H (cm)"}]},"mark":{"type":"text","fontSize":13.89,"color":"black","angle":272},"encoding":{"text":{"field":"t"}}},
{"data":{"name":"scatter"},"mark":{"type":"circle","size":52,"strokeWidth":1,"clip":true},"encoding":{"color":{"field":"h","type":"quantitative","scale":{"scheme":"viridis","domain":[0,780]},"legend":null},"stroke":{"field":"h","type":"quantitative","scale":{"scheme":"viridis","domain":[0,780]},"legend":null},"fillOpacity":{"field":"y","type":"quantitative","scale":{"domain":[240,636],"range":[0.5,0.9]},"legend":null},"strokeOpacity":{"field":"y","type":"quantitative","scale":{"domain":[240,636],"range":[0.5,0.9]},"legend":null}}},
{"data":{"name":"band"},"mark":{"type":"circle","size":300,"opacity":1,"clip":true},"encoding":{"color":{"field":"h","type":"quantitative","scale":{"scheme":"viridis","domain":[0,780]},"legend":null}}},
{"data":{"name":"core"},"mark":{"type":"circle","size":340,"opacity":1,"color":"#44387f","clip":true}},
{"data":{"name":"edge"},"mark":{"type":"circle","size":52,"strokeWidth":1,"clip":true},"encoding":{"color":{"field":"h","type":"quantitative","scale":{"scheme":"viridis","domain":[0,780]},"legend":null},"stroke":{"field":"h","type":"quantitative","scale":{"scheme":"viridis","domain":[0,780]},"legend":null},"fillOpacity":{"value":0.75},"strokeOpacity":{"value":0.85}}},
{"data":{"name":"dark"},"mark":{"type":"circle","size":52,"strokeWidth":1,"clip":true},"encoding":{"color":{"field":"h","type":"quantitative","scale":{"scheme":"viridis","domain":[0,780]},"legend":null},"stroke":{"field":"h","type":"quantitative","scale":{"scheme":"viridis","domain":[0,780]},"legend":null},"fillOpacity":{"value":0.85},"strokeOpacity":{"value":0.9}}},
{"data":{"values":[{"x":787,"x2":872,"y":115,"y2":140}]},"mark":{"type":"rect","fill":"white","fillOpacity":0.8,"stroke":"#cccccc","cornerRadius":3},"encoding":{"x2":{"field":"x2"},"y2":{"field":"y2"}}},
{"data":{"values":[{"x":806,"y":127}]},"mark":{"type":"circle","size":52,"color":"#440154","opacity":1}},
{"data":{"values":[{"x":831,"y":127,"t":"point"}]},"mark":{"type":"text","align":"left","fontSize":13.89,"color":"black"},"encoding":{"text":{"field":"t"}}}
]}
],"spacing":0,"bounds":"flush"},
{"hconcat":[
{"width":132,"height":132,"view":{"stroke":"black","strokeWidth":1.1},"title":"LiDAR Point 2D Coordinate Graph",
"encoding":{"x":{"field":"x","type":"quantitative","title":"X (cm)","scale":{"domain":[-675,675],"nice":false},"axis":{"values":[-500,0,500],"format":"d"}},"y":{"field":"y","type":"quantitative","title":"Y (cm)","scale":{"domain":[-675,675],"nice":false},"axis":{"values":[-500,0,500],"format":"d"}},
"color":{"datum":"point","type":"nominal","scale":{"domain":["point","wall"],"range":["#90ee90","#0000ff"]},"legend":{"title":null,"orient":"none","legendX":145,"legendY":7,"symbolType":"circle","symbolSize":90,"symbolOpacity":1,"labelFontSize":13.89,"labelColor":"black","fillColor":"white","strokeColor":"#cccccc","cornerRadius":3,"padding":7,"rowPadding":4,"labelOffset":18,"symbolOffset":5}}},
"layer":[
{"data":{"name":"core2d"},"mark":{"type":"circle","size":950,"opacity":1,"clip":true}},
{"data":{"name":"pts2d"},"mark":{"type":"circle","size":100,"opacity":1,"clip":true}}
]},
{"width":404,"height":132,"view":{"stroke":"black","strokeWidth":1.1},"title":{"text":"Height Histogram","offset":-2},
"data":{"name":"hist"},
"mark":{"type":"rect"},
"encoding":{"x":{"field":"x0","type":"quantitative","title":null,"scale":{"domain":[0,778],"nice":false},"axis":{"values":[0,100,200,300,400,500,600,700],"format":"d"}},"x2":{"field":"x1"},"y":{"field":"n","type":"quantitative","title":null,"scale":{"domain":[0,6090],"nice":false},"axis":{"values":[0,2000,4000,6000],"format":"d"}},"y2":{"datum":0},
"color":{"field":"s","type":"nominal","scale":{"domain":["Height"],"range":["#0000ff"]},"legend":{"title":null,"orient":"none","legendX":7,"legendY":7,"symbolType":"M-2.5,-0.9H2.5V0.9H-2.5Z","symbolSize":121,"symbolOpacity":1,"symbolStrokeWidth":0,"labelFontSize":13.89,"labelColor":"black","fillColor":"white","strokeColor":"#cccccc","cornerRadius":3,"padding":6,"labelOffset":18,"symbolOffset":5}}}
}
],"spacing":258,"bounds":"flush","resolve":{"scale":{"color":"independent"},"legend":{"color":"independent"}}}
],"spacing":561,"bounds":"flush"
}
